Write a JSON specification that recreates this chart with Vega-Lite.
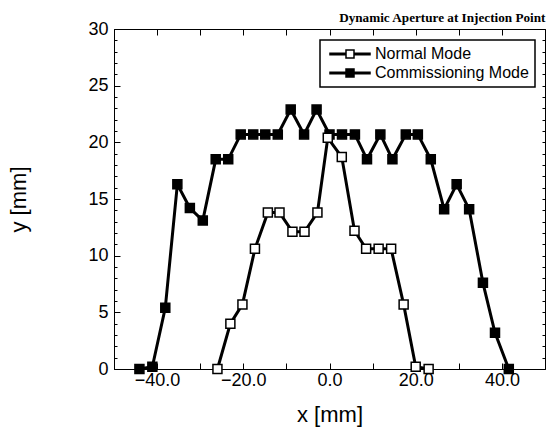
{
  "$schema": "https://vega.github.io/schema/vega-lite/v6.json",
  "width": 431,
  "height": 340,
  "autosize": {"type": "none"},
  "padding": {"left": 114, "top": 29, "right": 1, "bottom": 58},
  "background": "white",
  "title": {
    "text": "Dynamic Aperture at Injection Point",
    "anchor": "end",
    "font": "Liberation Serif",
    "fontSize": 13.2,
    "fontWeight": "bold",
    "color": "black",
    "offset": -15,
    "baseline": "alphabetic"
  },
  "data": {
    "values": [
      {"mode": "Commissioning Mode", "x": -44.1, "y": 0},
      {"mode": "Commissioning Mode", "x": -41.1, "y": 0.2},
      {"mode": "Commissioning Mode", "x": -38.1, "y": 5.4},
      {"mode": "Commissioning Mode", "x": -35.3, "y": 16.3},
      {"mode": "Commissioning Mode", "x": -32.4, "y": 14.2},
      {"mode": "Commissioning Mode", "x": -29.4, "y": 13.1},
      {"mode": "Commissioning Mode", "x": -26.4, "y": 18.5},
      {"mode": "Commissioning Mode", "x": -23.5, "y": 18.5},
      {"mode": "Commissioning Mode", "x": -20.6, "y": 20.7},
      {"mode": "Commissioning Mode", "x": -17.7, "y": 20.7},
      {"mode": "Commissioning Mode", "x": -14.9, "y": 20.7},
      {"mode": "Commissioning Mode", "x": -12.0, "y": 20.7},
      {"mode": "Commissioning Mode", "x": -9.0, "y": 22.9},
      {"mode": "Commissioning Mode", "x": -5.9, "y": 20.7},
      {"mode": "Commissioning Mode", "x": -3.0, "y": 22.9},
      {"mode": "Commissioning Mode", "x": 0.0, "y": 20.7},
      {"mode": "Commissioning Mode", "x": 2.9, "y": 20.7},
      {"mode": "Commissioning Mode", "x": 5.9, "y": 20.7},
      {"mode": "Commissioning Mode", "x": 8.7, "y": 18.5},
      {"mode": "Commissioning Mode", "x": 11.8, "y": 20.7},
      {"mode": "Commissioning Mode", "x": 14.6, "y": 18.5},
      {"mode": "Commissioning Mode", "x": 17.7, "y": 20.7},
      {"mode": "Commissioning Mode", "x": 20.5, "y": 20.7},
      {"mode": "Commissioning Mode", "x": 23.5, "y": 18.5},
      {"mode": "Commissioning Mode", "x": 26.6, "y": 14.1},
      {"mode": "Commissioning Mode", "x": 29.5, "y": 16.3},
      {"mode": "Commissioning Mode", "x": 32.4, "y": 14.1},
      {"mode": "Commissioning Mode", "x": 35.6, "y": 7.6},
      {"mode": "Commissioning Mode", "x": 38.4, "y": 3.2},
      {"mode": "Commissioning Mode", "x": 41.6, "y": 0},
      {"mode": "Normal Mode", "x": -26.0, "y": 0},
      {"mode": "Normal Mode", "x": -23.0, "y": 4.0},
      {"mode": "Normal Mode", "x": -20.2, "y": 5.7},
      {"mode": "Normal Mode", "x": -17.3, "y": 10.6},
      {"mode": "Normal Mode", "x": -14.3, "y": 13.8},
      {"mode": "Normal Mode", "x": -11.6, "y": 13.8},
      {"mode": "Normal Mode", "x": -8.6, "y": 12.1},
      {"mode": "Normal Mode", "x": -5.8, "y": 12.1},
      {"mode": "Normal Mode", "x": -2.8, "y": 13.8},
      {"mode": "Normal Mode", "x": -0.4, "y": 20.4},
      {"mode": "Normal Mode", "x": 2.85, "y": 18.7},
      {"mode": "Normal Mode", "x": 5.8, "y": 12.2},
      {"mode": "Normal Mode", "x": 8.5, "y": 10.6},
      {"mode": "Normal Mode", "x": 11.4, "y": 10.6},
      {"mode": "Normal Mode", "x": 14.3, "y": 10.6},
      {"mode": "Normal Mode", "x": 17.2, "y": 5.7},
      {"mode": "Normal Mode", "x": 20.0, "y": 0.2},
      {"mode": "Normal Mode", "x": 23.0, "y": 0}
    ]
  },
  "resolve": {"axis": {"x": "independent", "y": "independent"}},
  "layer": [
    {
      "mark": {"type": "line", "color": "black", "strokeWidth": 3},
      "encoding": {
        "x": {
          "field": "x", "type": "quantitative",
          "scale": {"domain": [-50, 50], "nice": false, "zero": false},
          "axis": {
            "orient": "bottom",
            "values": [-50, -40, -30, -20, -10, 0, 10, 20, 30, 40, 50],
            "labelExpr": "datum.value % 20 == 0 ? format(datum.value, '.1f') : ''",
            "tickSize": -6,
            "labelPadding": 8,
            "labelFontSize": 18,
            "labelOverlap": false,
            "labelFlush": false,
            "title": "x [mm]",
            "titleFontSize": 22,
            "titlePadding": 15
          }
        },
        "y": {
          "field": "y", "type": "quantitative",
          "scale": {"domain": [0, 30], "nice": false},
          "axis": {
            "orient": "left",
            "values": [0, 5, 10, 15, 20, 25, 30],
            "tickSize": -6,
            "labelPadding": 12,
            "labelFontSize": 18,
            "labelOverlap": false,
            "labelFlush": false,
            "title": "y [mm]",
            "titleFontSize": 22,
            "titlePadding": 57
          }
        },
        "detail": {"field": "mode"}
      }
    },
    {
      "mark": {"type": "point", "opacity": 0},
      "encoding": {
        "x": {
          "field": "x", "type": "quantitative",
          "axis": {
            "orient": "top",
            "values": [-50, -40, -30, -20, -10, 0, 10, 20, 30, 40, 50],
            "tickSize": -6,
            "labels": false,
            "title": null
          }
        },
        "y": {
          "field": "y", "type": "quantitative",
          "axis": {
            "orient": "left",
            "values": [0, 1, 2, 3, 4, 5, 6, 7, 8, 9, 10, 11, 12, 13, 14, 15, 16, 17, 18, 19, 20, 21, 22, 23, 24, 25, 26, 27, 28, 29, 30],
            "tickSize": -3,
            "labels": false,
            "domain": false,
            "title": null
          }
        }
      }
    },
    {
      "mark": {"type": "point", "shape": "square", "filled": true, "size": 81, "stroke": "black", "strokeWidth": 1.5, "opacity": 1},
      "encoding": {
        "x": {"field": "x", "type": "quantitative", "axis": null},
        "y": {
          "field": "y", "type": "quantitative",
          "axis": {
            "orient": "right",
            "values": [0, 1, 2, 3, 4, 5, 6, 7, 8, 9, 10, 11, 12, 13, 14, 15, 16, 17, 18, 19, 20, 21, 22, 23, 24, 25, 26, 27, 28, 29, 30],
            "tickSize": -3,
            "labels": false,
            "title": null
          }
        },
        "fill": {
          "field": "mode", "type": "nominal",
          "scale": {"domain": ["Normal Mode", "Commissioning Mode"], "range": ["white", "black"]},
          "legend": {
            "title": null,
            "orient": "none",
            "legendX": 206,
            "legendY": 11,
            "symbolType": "M-1,-0.19H3V0.19H-1Z M5,-0.19H9V0.19H5Z M3,-1H5V1H3Z",
            "symbolSize": 64,
            "symbolStrokeColor": "black",
            "symbolStrokeWidth": 1.5,
            "labelFont": "Liberation Sans",
            "labelFontSize": 16,
            "labelColor": "black",
            "labelOffset": 33,
            "rowPadding": 3,
            "padding": 6,
            "strokeColor": "black",
            "fillColor": "white"
          }
        }
      }
    }
  ],
  "config": {
    "view": {"stroke": null},
    "axis": {
      "labelFont": "Liberation Sans",
      "titleFont": "Liberation Sans",
      "titleFontWeight": "normal",
      "labelColor": "black",
      "titleColor": "black",
      "domainColor": "black",
      "domainWidth": 1,
      "tickColor": "black",
      "tickWidth": 1,
      "grid": false
    },
    "legend": {"cornerRadius": 0, "strokeWidth": 1.5}
  }
}
